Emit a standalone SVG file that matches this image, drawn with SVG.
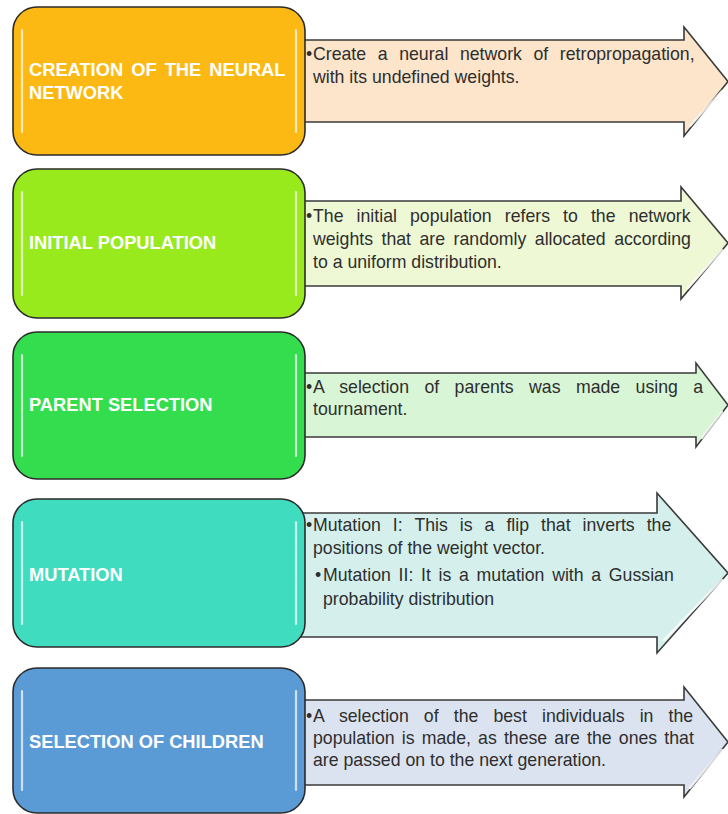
<svg xmlns="http://www.w3.org/2000/svg" width="728" height="814" viewBox="0 0 728 814">
<style>
.box{stroke:#2b2b2b;stroke-width:1.6}
.gl{stroke:#ffffff;stroke-opacity:0.7;stroke-width:2.2;fill:none;stroke-linecap:round}
.arr{stroke:#3a3a3a;stroke-width:1.6;stroke-linejoin:miter}
.hl{stroke:#ffffff;stroke-opacity:0.8;stroke-width:2.5;fill:none;stroke-linecap:round}
.bt{font-family:"Liberation Sans",Arial,sans-serif;font-weight:bold;font-size:18.3px;fill:#ffffff}
.tx{font-family:"Liberation Sans",Arial,sans-serif;font-size:17.7px;fill:#2e2e2e}
</style>
<rect width="728" height="814" fill="#ffffff"/>
<g id="step1">
<path class="arr" fill="#fce5cb" d="M298,40 H684 V27 L728,81.5 L684,136 V122 H298 Z"/>
<path class="hl" d="M690,126 L722,91"/>
<rect class="box" x="13" y="7" width="292" height="148" rx="24" fill="#fdb913"/>
<path class="gl" d="M22,30 V132 M296,30 V132"/>
<text class="bt" x="29" y="76" word-spacing="3">CREATION OF THE NEURAL</text>
<text class="bt" x="29" y="99">NETWORK</text>
<text class="tx" x="306" y="60">•</text>
<text class="tx" x="313" y="60" word-spacing="6.7">Create a neural network of retropropagation,</text>
<text class="tx" x="313" y="83">with its undefined weights.</text>
</g>
<g id="step2">
<path class="arr" fill="#eef8d5" d="M298,201 H681 V187 L728,243 L681,299 V286 H298 Z"/>
<path class="hl" d="M688,288 L722,250"/>
<rect class="box" x="13" y="169" width="292" height="149" rx="24" fill="#99ea1d"/>
<path class="gl" d="M22,192 V295 M296,192 V295"/>
<text class="bt" x="29" y="249">INITIAL POPULATION</text>
<text class="tx" x="306" y="222">•</text>
<text class="tx" x="313" y="222" word-spacing="8.2">The initial population refers to the network</text>
<text class="tx" x="313" y="245" word-spacing="3.6">weights that are randomly allocated according</text>
<text class="tx" x="313" y="268">to a uniform distribution.</text>
</g>
<g id="step3">
<path class="arr" fill="#d8f5d6" d="M298,373 H696 V363 L728,405 L696,447 V437 H298 Z"/>
<path class="hl" d="M702,438 L722,412"/>
<rect class="box" x="13" y="332" width="292" height="147" rx="24" fill="#34dd4d"/>
<path class="gl" d="M22,355 V456 M296,355 V456"/>
<text class="bt" x="29" y="411">PARENT SELECTION</text>
<text class="tx" x="306" y="393">•</text>
<text class="tx" x="313" y="393" word-spacing="10.5">A selection of parents was made using a</text>
<text class="tx" x="313" y="415">tournament.</text>
</g>
<g id="step4">
<path class="arr" fill="#d5f0ec" d="M298,513 H657 V493 L728,573 L657,653 V637 H298 Z"/>
<path class="hl" d="M664,640 L722,580"/>
<rect class="box" x="13" y="499" width="292" height="148" rx="24" fill="#40dcbf"/>
<path class="gl" d="M22,522 V624 M296,522 V624"/>
<text class="bt" x="29" y="581">MUTATION</text>
<text class="tx" x="306" y="531">•</text>
<text class="tx" x="313" y="531" word-spacing="7.1">Mutation I: This is a flip that inverts the</text>
<text class="tx" x="313" y="554">positions of the weight vector.</text>
<text class="tx" x="315" y="581">•</text>
<text class="tx" x="323" y="581" word-spacing="2.8">Mutation II: It is a mutation with a Gussian</text>
<text class="tx" x="323" y="605">probability distribution</text>
</g>
<g id="step5">
<path class="arr" fill="#dce3f0" d="M298,700 H684 V687 L728,742 L684,797 V785 H298 Z"/>
<path class="hl" d="M690,788 L722,750"/>
<rect class="box" x="13" y="668" width="292" height="145" rx="24" fill="#5b9bd5"/>
<path class="gl" d="M22,691 V790 M296,691 V790"/>
<text class="bt" x="29" y="748">SELECTION OF CHILDREN</text>
<text class="tx" x="306" y="722">•</text>
<text class="tx" x="313" y="722" word-spacing="10.2">A selection of the best individuals in the</text>
<text class="tx" x="313" y="744" word-spacing="2.25">population is made, as these are the ones that</text>
<text class="tx" x="313" y="766">are passed on to the next generation.</text>
</g>
</svg>
